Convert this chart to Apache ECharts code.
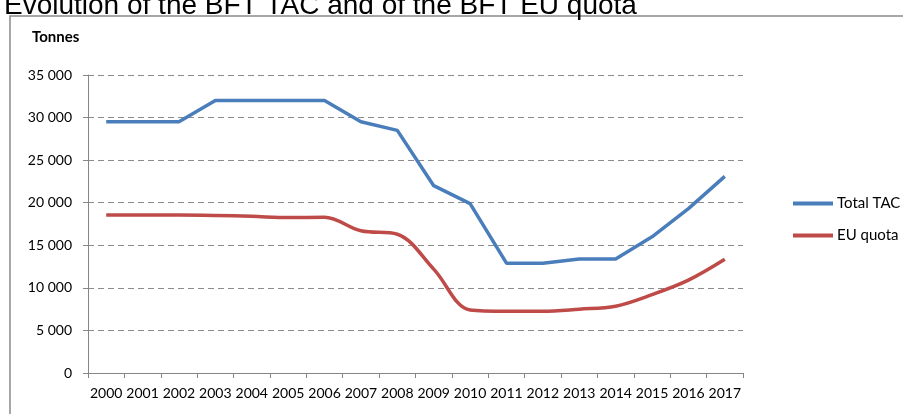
<!DOCTYPE html>
<html>
<head>
<meta charset="utf-8">
<script src="https://cdn.jsdelivr.net/npm/echarts@6/dist/echarts.min.js"></script>
<style>
  html, body { margin: 0; padding: 0; background: #fff; }
  #main { width: 903px; height: 414px; }
</style>
</head>
<body>
<div id="main"></div>
<script>
// years on the x axis
var years = ['2000','2001','2002','2003','2004','2005','2006','2007','2008',
             '2009','2010','2011','2012','2013','2014','2015','2016','2017'];
// Total TAC, tonnes
var totalTac = [29500,29500,29500,32000,32000,32000,32000,29500,28500,
                22000,19900,12900,12900,13400,13400,16000,19300,23100];
// EU quota, tonnes
var euQuota = [18550,18550,18550,18500,18400,18250,18300,16700,16300,
               12200,7400,7250,7250,7500,7850,9200,10900,13350];

function fmt(v){
  return String(v).replace(/\B(?=(\d{3})+(?!\d))/g, ' ');
}

var chart = echarts.init(document.getElementById('main'));
var labelFont = 'Lato, "Liberation Sans", sans-serif';

chart.setOption({
  animation: false,
  title: {
    text: 'Evolution of the BFT TAC and of the BFT EU quota',
    left: -1, top: -13,
    textStyle: { fontFamily: '"Liberation Sans", Arial, sans-serif', fontSize: 28, fontWeight: 'normal', color: '#000' }
  },
  graphic: [
    { type: 'rect', shape: { x: 10, y: 16, width: 1000, height: 500 },
      style: { fill: 'none', stroke: '#8a8a8a', lineWidth: 1.5 } },
    { type: 'text', left: 32, top: 30,
      style: { text: 'Tonnes', font: 'bold 15px ' + labelFont, fill: '#000' } }
  ],
  legend: {
    orient: 'vertical',
    left: 788, top: 191,
    itemWidth: 40, itemHeight: 4, itemGap: 17,
    icon: 'rect',
    textStyle: { fontFamily: labelFont, fontSize: 15, color: '#000', padding: [0,0,0,-1] },
    data: ['Total TAC', 'EU quota']
  },
  grid: { left: 88, right: 160, top: 75, bottom: 41 },
  xAxis: {
    type: 'category',
    data: years,
    boundaryGap: true,
    axisLine: { lineStyle: { color: '#868686', width: 1 } },
    axisTick: { show: true, length: 5, lineStyle: { color: '#868686' } },
    axisLabel: { color: '#000', fontFamily: labelFont, fontSize: 14, margin: 13, interval: 0 }
  },
  yAxis: {
    type: 'value',
    min: 0, max: 35000, interval: 5000,
    axisLine: { show: true, lineStyle: { color: '#868686', width: 1 } },
    axisTick: { show: true, length: 5, lineStyle: { color: '#868686' } },
    axisLabel: { color: '#000', fontFamily: labelFont, fontSize: 14, margin: 16, formatter: fmt },
    splitLine: { lineStyle: { color: '#8c8c8c', type: [6, 4], width: 1 } }
  },
  series: [
    { name: 'Total TAC', type: 'line', data: totalTac, symbol: 'none',
      lineStyle: { color: '#4a7ebb', width: 3.5 }, itemStyle: { color: '#4a7ebb' } },
    { name: 'EU quota', type: 'line', data: euQuota, symbol: 'none', smooth: 0.35,
      lineStyle: { color: '#be4b48', width: 3.5 }, itemStyle: { color: '#be4b48' } }
  ]
});
</script>
</body>
</html>
